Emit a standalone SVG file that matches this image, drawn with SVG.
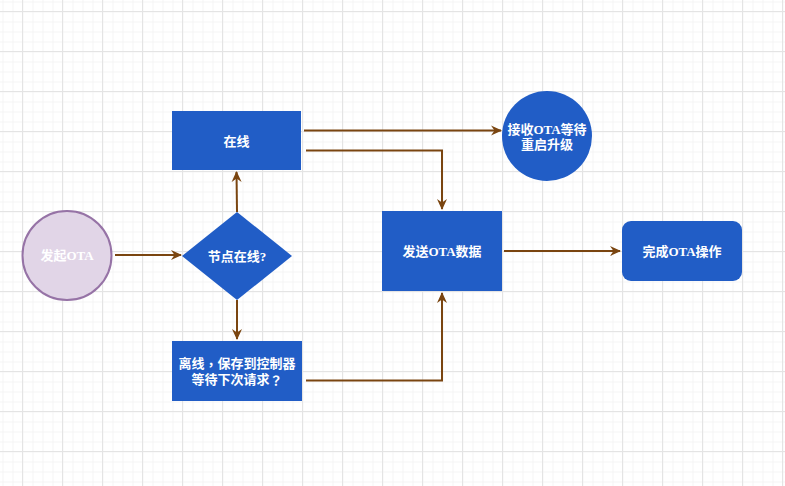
<svg xmlns="http://www.w3.org/2000/svg" width="785" height="486" viewBox="0 0 785 486">
<defs>
<pattern id="minor" width="10" height="10" patternUnits="userSpaceOnUse" x="2.5" y="1.5">
<path d="M0,0.5 H10 M0.5,0 V10" fill="none" stroke="#f4f4f4" stroke-width="1"/>
</pattern>
<pattern id="major" width="40" height="40" patternUnits="userSpaceOnUse" x="22" y="11">
<path d="M0,0.5 H40 M0.5,0 V40" fill="none" stroke="#e4e4e4" stroke-width="1"/>
</pattern>
<marker id="arr" viewBox="0 0 11 11" refX="10" refY="5.5" markerWidth="11" markerHeight="11" markerUnits="userSpaceOnUse" orient="auto">
<path d="M0,0.5 L11,5.5 L0,10.5 L3.5,5.5 z" fill="#7a4510"/>
</marker>
</defs>
<style>
.blue{fill:#215dc6;}
.t{font-family:"Liberation Serif","Noto Sans CJK SC",serif;font-weight:bold;font-size:13px;fill:#ffffff;text-anchor:middle;dominant-baseline:central;}
.p{font-family:"Noto Sans CJK TC",sans-serif;}
.c{fill:none;stroke:#7a4510;stroke-width:2;marker-end:url(#arr);}
</style>
<rect width="785" height="486" fill="#ffffff"/>
<rect width="785" height="486" fill="url(#minor)"/>
<rect width="785" height="486" fill="url(#major)"/>

<g id="connectors">
<path class="c" d="M115,255 H181"/>
<path class="c" d="M237,212 L236.5,172"/>
<path class="c" d="M237,300 V339"/>
<path class="c" d="M304,130.5 H501"/>
<path class="c" d="M306,150.5 H442 V209"/>
<path class="c" d="M306,380.5 H442 V293"/>
<path class="c" d="M504,251 H620"/>
</g>

<g id="start">
<circle cx="67" cy="255.5" r="44.5" fill="#e1d5e7" stroke="#9673a6" stroke-width="2"/>
<text class="t" x="67" y="255">发起OTA</text>
</g>
<g id="decision">
<polygon class="blue" points="237,212 292,256 237,300 182,256"/>
<text class="t" x="237" y="256">节点在线?</text>
</g>
<g id="online">
<rect class="blue" x="172" y="111" width="129" height="59"/>
<text class="t" x="236.5" y="141">在线</text>
</g>
<g id="offline">
<rect class="blue" x="172" y="341" width="130" height="60"/>
<text class="t" x="237" y="363">离线<tspan class="p">，</tspan>保存到控制器</text>
<text class="t" x="237" y="379">等待下次请求<tspan class="p">？</tspan></text>
</g>
<g id="receive">
<circle class="blue" cx="547" cy="136" r="45"/>
<text class="t" x="547" y="129">接收OTA等待</text>
<text class="t" x="547" y="144">重启升级</text>
</g>
<g id="send">
<rect class="blue" x="382" y="211" width="120" height="80"/>
<text class="t" x="442" y="251">发送OTA数据</text>
</g>
<g id="done">
<rect class="blue" x="622" y="221" width="120" height="60" rx="9" ry="9"/>
<text class="t" x="682" y="251">完成OTA操作</text>
</g>
</svg>
